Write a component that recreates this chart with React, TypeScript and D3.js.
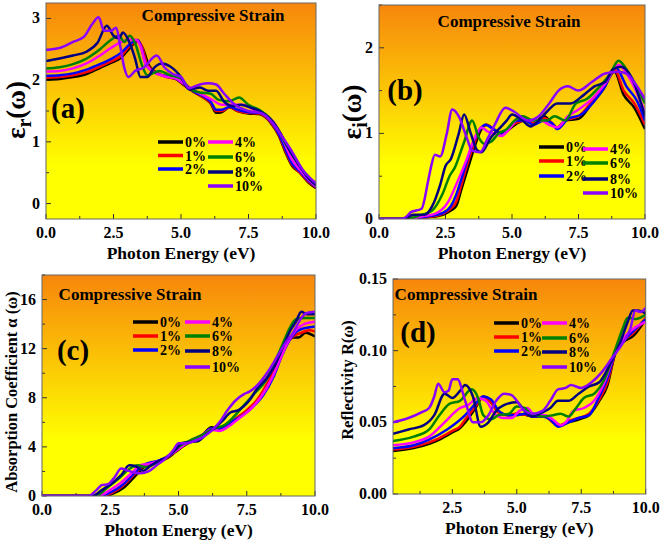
import React from "react";
import * as d3 from "d3";

type Pt = [number, number];

const seriesLabels = ["0%", "1%", "2%", "4%", "6%", "8%", "10%"];
const seriesColors = ["#000000", "#ff0000", "#0000ff", "#ff00ff", "#008000", "#000080", "#8b00ff"];

const xTickValues = [0, 2.5, 5, 7.5, 10];

// Panel (a): epsilon_r
const epsR0: Pt[] = [[0,2.01],[0.5,2.02],[1,2.05],[1.5,2.1],[2,2.2],[2.4,2.28],[2.8,2.37],[3.1,2.52],[3.4,2.63],[3.6,2.5],[3.8,2.25],[4.1,2.12],[4.5,2.05],[4.8,2.02],[5.1,1.92],[5.5,1.8],[5.9,1.7],[6.1,1.62],[6.3,1.47],[6.5,1.48],[6.8,1.56],[7.1,1.5],[7.5,1.46],[7.9,1.45],[8.3,1.32],[8.6,1.12],[8.9,0.8],[9.1,0.62],[9.4,0.5],[9.7,0.35],[10,0.25]];
const epsR1: Pt[] = [[0,2.04],[0.5,2.05],[1,2.08],[1.5,2.13],[2,2.22],[2.4,2.3],[2.8,2.4],[3.1,2.55],[3.4,2.64],[3.55,2.55],[3.75,2.25],[4.1,2.12],[4.5,2.05],[4.8,2.02],[5.1,1.93],[5.5,1.8],[5.9,1.7],[6.1,1.63],[6.3,1.5],[6.5,1.5],[6.8,1.56],[7.1,1.5],[7.5,1.47],[7.9,1.46],[8.3,1.33],[8.6,1.13],[8.9,0.82],[9.1,0.64],[9.4,0.5],[9.7,0.36],[10,0.26]];
const epsR2: Pt[] = [[0,2.07],[0.5,2.08],[1,2.11],[1.5,2.17],[2,2.26],[2.4,2.34],[2.8,2.45],[3.1,2.58],[3.4,2.65],[3.55,2.5],[3.7,2.25],[4.0,2.13],[4.4,2.07],[4.8,2.03],[5.1,1.94],[5.5,1.81],[5.9,1.72],[6.1,1.65],[6.3,1.52],[6.5,1.52],[6.8,1.57],[7.1,1.52],[7.5,1.48],[7.9,1.47],[8.3,1.35],[8.6,1.15],[8.9,0.85],[9.1,0.66],[9.4,0.52],[9.7,0.38],[10,0.27]];
const epsR4: Pt[] = [[0,2.14],[0.5,2.15],[1,2.19],[1.5,2.27],[2,2.4],[2.4,2.52],[2.8,2.62],[3.1,2.66],[3.35,2.65],[3.5,2.55],[3.7,2.25],[4.0,2.13],[4.4,2.06],[4.8,2.03],[5.1,1.95],[5.5,1.83],[5.9,1.74],[6.2,1.67],[6.5,1.6],[6.9,1.6],[7.3,1.6],[7.7,1.52],[8.1,1.45],[8.5,1.28],[8.8,1.02],[9.1,0.72],[9.4,0.55],[9.7,0.4],[10,0.28]];
const epsR6: Pt[] = [[0,2.19],[0.5,2.21],[1,2.26],[1.5,2.35],[2,2.5],[2.4,2.65],[2.7,2.72],[2.9,2.62],[3.1,2.72],[3.3,2.6],[3.55,2.25],[3.75,2.08],[4.0,2.12],[4.2,2.15],[4.6,2.08],[5.0,2.03],[5.3,1.87],[5.7,1.8],[6.1,1.78],[6.4,1.68],[6.8,1.66],[7.15,1.72],[7.5,1.6],[7.9,1.52],[8.3,1.38],[8.6,1.2],[8.9,0.95],[9.2,0.75],[9.5,0.55],[9.8,0.4],[10,0.3]];
const epsR8: Pt[] = [[0,2.31],[0.5,2.35],[1,2.4],[1.5,2.46],[1.9,2.6],[2.25,2.88],[2.5,2.72],[2.7,2.68],[2.85,2.77],[3.1,2.6],[3.3,2.35],[3.5,2.05],[3.75,2.05],[4.0,2.2],[4.3,2.27],[4.6,2.22],[5.0,2.05],[5.3,1.85],[5.7,1.88],[6.0,1.83],[6.3,1.83],[6.6,1.65],[6.9,1.58],[7.2,1.6],[7.6,1.55],[8.0,1.48],[8.4,1.32],[8.8,1.05],[9.1,0.8],[9.4,0.6],[9.7,0.42],[10,0.3]];
const epsR10: Pt[] = [[0,2.49],[0.5,2.52],[1,2.62],[1.4,2.7],[1.7,2.9],[1.95,3.02],[2.15,2.8],[2.4,2.8],[2.6,2.85],[2.75,2.55],[2.9,2.2],[3.05,2.05],[3.3,2.15],[3.6,2.2],[4.1,2.4],[4.4,2.2],[4.7,2.1],[5.0,2.05],[5.3,1.87],[5.7,1.93],[6.0,1.95],[6.3,1.93],[6.6,1.78],[7.0,1.6],[7.5,1.5],[8.0,1.46],[8.4,1.3],[8.8,1.05],[9.1,0.85],[9.5,0.55],[10,0.33]];

// Panel (b): epsilon_i
const epsI0: Pt[] = [[0,0],[1.3,0],[1.8,0.02],[2.4,0.05],[2.7,0.1],[2.9,0.15],[3.1,0.35],[3.35,0.6],[3.6,0.85],[3.85,1.05],[4.05,1.1],[4.3,1.05],[4.6,1.0],[4.9,1.05],[5.2,1.12],[5.5,1.15],[5.8,1.12],[6.2,1.2],[6.5,1.12],[6.7,1.07],[7.0,1.15],[7.5,1.17],[8.0,1.35],[8.4,1.5],[8.85,1.72],[9.2,1.45],[9.6,1.3],[10,1.05]];
const epsI1: Pt[] = [[0,0],[1.3,0],[1.8,0.02],[2.4,0.06],[2.7,0.12],[2.9,0.2],[3.1,0.4],[3.35,0.67],[3.6,0.9],[3.85,1.07],[4.05,1.1],[4.3,1.05],[4.6,1.0],[4.9,1.07],[5.2,1.13],[5.5,1.15],[5.8,1.12],[6.2,1.18],[6.5,1.12],[6.7,1.06],[7.0,1.15],[7.5,1.2],[8.0,1.37],[8.4,1.52],[8.85,1.75],[9.2,1.5],[9.6,1.35],[10,1.1]];
const epsI2: Pt[] = [[0,0],[1.2,0],[1.8,0.03],[2.4,0.07],[2.7,0.15],[2.9,0.28],[3.1,0.47],[3.35,0.72],[3.55,0.9],[3.8,1.05],[4.0,1.1],[4.3,1.05],[4.6,1.0],[4.9,1.07],[5.2,1.15],[5.5,1.15],[5.8,1.1],[6.2,1.15],[6.5,1.12],[6.7,1.05],[7.1,1.17],[7.6,1.22],[8.1,1.38],[8.5,1.55],[8.9,1.77],[9.3,1.55],[9.7,1.38],[10,1.15]];
const epsI4: Pt[] = [[0,0],[1.1,0],[1.6,0.03],[2.1,0.06],[2.6,0.2],[2.9,0.4],[3.3,0.7],[3.6,0.95],[3.85,1.07],[4.1,1.02],[4.3,1.0],[4.6,0.97],[4.9,1.05],[5.3,1.2],[5.7,1.15],[6.1,1.15],[6.4,1.1],[6.7,1.07],[7.1,1.2],[7.5,1.28],[8.0,1.4],[8.5,1.58],[9.0,1.8],[9.5,1.6],[10,1.25]];
const epsI6: Pt[] = [[0,0],[1.0,0],[1.5,0.04],[2.0,0.1],[2.4,0.3],[2.65,0.5],[2.85,0.6],[3.2,0.9],[3.5,1.15],[3.75,0.95],[3.95,0.88],[4.2,0.9],[4.5,1.0],[4.8,1.05],[5.1,1.15],[5.4,1.2],[5.8,1.15],[6.3,1.15],[6.6,1.2],[7.0,1.15],[7.4,1.35],[7.8,1.4],[8.3,1.55],[8.7,1.7],[9.0,1.85],[9.4,1.7],[10,1.35]];
const epsI8: Pt[] = [[0,0],[0.9,0],[1.3,0.05],[1.7,0.05],[2.0,0.15],[2.3,0.4],[2.5,0.62],[2.7,0.7],[3.0,1.0],[3.2,1.22],[3.45,1.0],[3.7,0.8],[3.85,0.78],[4.2,0.95],[4.5,1.05],[4.8,1.15],[5.0,1.22],[5.4,1.15],[5.7,1.08],[6.0,1.15],[6.3,1.25],[6.7,1.35],[7.2,1.35],[7.7,1.45],[8.1,1.55],[8.5,1.6],[8.8,1.75],[9.1,1.78],[9.5,1.65],[10,1.2]];
const epsI10: Pt[] = [[0,0],[0.8,0],[1.0,0.02],[1.2,0.08],[1.6,0.12],[1.85,0.45],[1.95,0.6],[2.1,0.75],[2.3,0.73],[2.55,1.0],[2.75,1.28],[3.0,1.2],[3.3,0.95],[3.5,0.8],[3.8,0.78],[4.1,0.95],[4.35,1.1],[4.75,1.3],[5.1,1.25],[5.6,1.15],[6.0,1.2],[6.4,1.35],[6.75,1.5],[7.1,1.55],[7.5,1.5],[8.0,1.6],[8.5,1.7],[9.0,1.72],[9.3,1.7],[9.7,1.55],[10,1.4]];

// Panel (c): absorption coefficient
const alpha0: Pt[] = [[0,0],[2.2,0],[2.6,0.2],[3.0,0.7],[3.4,1.6],[3.7,2.3],[4.0,2.6],[4.3,2.8],[4.6,3.1],[4.9,3.6],[5.2,4.1],[5.6,4.6],[5.9,5.0],[6.2,5.6],[6.5,5.4],[6.8,5.7],[7.1,6.3],[7.5,6.9],[7.9,7.8],[8.3,9.3],[8.6,10.8],[8.9,12.2],[9.2,12.9],[9.4,12.9],[9.65,13.3],[10,13.0]];
const alpha1: Pt[] = [[0,0],[2.15,0],[2.6,0.3],[3.0,0.9],[3.4,1.8],[3.7,2.4],[4.0,2.7],[4.3,2.85],[4.6,3.15],[4.9,3.65],[5.2,4.15],[5.6,4.6],[5.9,5.0],[6.2,5.5],[6.5,5.4],[6.8,5.8],[7.1,6.3],[7.5,7.0],[7.9,7.9],[8.3,9.4],[8.6,10.9],[8.9,12.3],[9.2,13.0],[9.5,13.3],[9.8,13.5],[10,13.4]];
const alpha2: Pt[] = [[0,0],[2.1,0],[2.6,0.4],[3.0,1.0],[3.4,1.9],[3.7,2.5],[4.0,2.75],[4.3,2.9],[4.6,3.2],[4.9,3.7],[5.2,4.2],[5.6,4.6],[5.9,5.0],[6.2,5.5],[6.5,5.5],[6.9,6.0],[7.3,6.5],[7.7,7.2],[8.1,8.2],[8.5,9.8],[8.8,11.5],[9.1,12.8],[9.4,13.5],[10,13.8]];
const alpha4: Pt[] = [[0,0],[2.05,0],[2.5,0.5],[2.9,1.1],[3.3,1.9],[3.6,2.5],[3.9,2.6],[4.2,2.8],[4.5,3.1],[4.8,3.5],[5.1,4.0],[5.5,4.6],[5.9,5.0],[6.2,5.4],[6.5,5.3],[6.8,5.6],[7.2,6.3],[7.6,7.0],[8.0,8.0],[8.4,9.5],[8.7,11],[9.0,12.5],[9.3,13.5],[9.6,14.0],[10,14.2]];
const alpha6: Pt[] = [[0,0],[1.95,0],[2.4,0.7],[2.8,1.4],[3.2,2.2],[3.5,2.5],[3.8,2.35],[4.1,2.6],[4.4,2.95],[4.7,3.4],[5.0,4.0],[5.4,4.5],[5.9,5.0],[6.3,5.5],[6.7,5.8],[7.0,6.4],[7.4,7.4],[7.8,8.4],[8.2,9.4],[8.5,10.8],[8.8,12.3],[9.1,13.8],[9.3,14.4],[9.6,14.5],[10,14.5]];
const alpha8: Pt[] = [[0,0],[1.85,0],[2.2,0.5],[2.6,1.1],[2.9,1.7],[3.2,2.5],[3.45,2.4],[3.7,2.05],[4.0,2.5],[4.3,2.9],[4.6,3.2],[4.9,3.8],[5.1,4.3],[5.4,4.4],[5.7,4.45],[6.0,5.0],[6.3,5.5],[6.6,6.1],[6.9,6.8],[7.2,7.0],[7.6,7.8],[7.9,8.8],[8.2,9.5],[8.5,10.5],[8.8,12.0],[9.1,13.5],[9.3,14.2],[9.5,15.0],[9.7,14.8],[10,14.8]];
const alpha10: Pt[] = [[0,0],[1.7,0],[2.0,0.5],[2.2,0.9],[2.4,0.95],[2.65,1.5],[2.9,2.25],[3.1,2.1],[3.4,1.9],[3.6,1.85],[3.9,2.0],[4.2,2.5],[4.5,3.0],[4.8,3.7],[5.0,4.3],[5.3,4.3],[5.6,4.5],[5.9,4.8],[6.2,5.3],[6.5,6.0],[6.8,7.0],[7.1,7.8],[7.4,8.3],[7.6,8.5],[8.0,9.3],[8.3,10.2],[8.6,11.3],[8.9,12.4],[9.2,13.3],[9.5,14.5],[9.7,14.9],[10,15.0]];

// Panel (d): reflectivity
const refl0: Pt[] = [[0.2,0.030],[1.0,0.032],[1.6,0.035],[2.0,0.038],[2.5,0.043],[2.8,0.046],[3.0,0.05],[3.4,0.06],[3.7,0.068],[4.0,0.064],[4.3,0.057],[4.7,0.055],[5.0,0.056],[5.4,0.055],[5.8,0.054],[6.1,0.054],[6.4,0.05],[6.7,0.048],[7.0,0.05],[7.4,0.052],[7.8,0.055],[8.2,0.065],[8.5,0.075],[8.85,0.1],[9.2,0.107],[9.5,0.11],[10,0.122]];
const refl1: Pt[] = [[0.2,0.031],[1.0,0.033],[1.6,0.036],[2.0,0.039],[2.5,0.044],[2.8,0.047],[3.0,0.052],[3.4,0.061],[3.7,0.068],[4.0,0.064],[4.3,0.057],[4.7,0.055],[5.0,0.056],[5.4,0.055],[5.8,0.054],[6.1,0.054],[6.4,0.05],[6.7,0.048],[7.0,0.051],[7.4,0.053],[7.8,0.056],[8.2,0.066],[8.5,0.077],[8.85,0.1],[9.2,0.108],[9.5,0.112],[10,0.123]];
const refl2: Pt[] = [[0.2,0.032],[1.0,0.034],[1.6,0.038],[2.3,0.045],[3.0,0.055],[3.4,0.063],[3.7,0.068],[4.0,0.066],[4.3,0.058],[4.7,0.055],[5.0,0.055],[5.3,0.056],[5.6,0.054],[6.0,0.054],[6.3,0.052],[6.6,0.047],[7.0,0.05],[7.4,0.053],[7.8,0.055],[8.2,0.068],[8.5,0.08],[8.85,0.1],[9.2,0.108],[9.6,0.115],[10,0.122]];
const refl4: Pt[] = [[0.2,0.034],[1.0,0.036],[1.6,0.04],[2.2,0.05],[2.8,0.06],[3.1,0.062],[3.5,0.067],[3.8,0.065],[4.1,0.057],[4.5,0.053],[4.8,0.053],[5.1,0.058],[5.4,0.06],[5.7,0.055],[6.1,0.055],[6.4,0.052],[6.7,0.048],[6.9,0.05],[7.2,0.058],[7.6,0.06],[8.0,0.065],[8.4,0.078],[8.8,0.098],[9.2,0.11],[9.5,0.115],[10,0.12]];
const refl6: Pt[] = [[0.2,0.037],[1.0,0.04],[1.6,0.045],[2.0,0.055],[2.4,0.063],[2.8,0.065],[3.25,0.073],[3.5,0.067],[3.7,0.055],[4.0,0.052],[4.3,0.055],[4.7,0.056],[5.0,0.061],[5.3,0.06],[5.6,0.055],[6.0,0.054],[6.4,0.055],[6.7,0.056],[7.0,0.054],[7.3,0.06],[7.6,0.067],[8.0,0.07],[8.4,0.08],[8.8,0.1],[9.1,0.115],[9.3,0.123],[9.6,0.122],[10,0.125]];
const refl8: Pt[] = [[0.2,0.042],[0.8,0.045],[1.4,0.048],[1.8,0.055],[2.2,0.07],[2.5,0.067],[2.8,0.072],[3.0,0.076],[3.3,0.068],[3.6,0.047],[3.9,0.05],[4.2,0.058],[4.5,0.062],[5.0,0.064],[5.3,0.058],[5.6,0.054],[6.0,0.057],[6.3,0.06],[6.6,0.065],[7.0,0.065],[7.4,0.07],[7.8,0.075],[8.2,0.078],[8.6,0.09],[9.0,0.105],[9.3,0.12],[9.5,0.128],[9.7,0.128],[10,0.126]];
const refl10: Pt[] = [[0.2,0.05],[0.8,0.053],[1.3,0.057],[1.6,0.06],[1.8,0.068],[1.95,0.077],[2.2,0.071],[2.35,0.072],[2.5,0.08],[2.7,0.08],[3.0,0.065],[3.3,0.05],[3.6,0.05],[3.9,0.055],[4.2,0.065],[4.5,0.07],[4.8,0.069],[5.0,0.065],[5.2,0.06],[5.6,0.056],[6.0,0.058],[6.3,0.065],[6.6,0.073],[6.9,0.074],[7.1,0.076],[7.5,0.074],[7.9,0.078],[8.3,0.085],[8.7,0.095],[9.1,0.105],[9.4,0.115],[9.6,0.128],[9.8,0.127],[10,0.13]];

const yTicksA = [0, 1, 2, 3];
const yTicksB = [0, 1, 2];
const yTicksC = [0, 4, 8, 12, 16];
const yTicksD = [0, 0.05, 0.1, 0.15];

const FONT = "'Liberation Serif', 'Times New Roman', serif";

type PanelProps = {
  id: string;
  series: Pt[][];
  x0: number; x1: number; y0: number; y1: number;
  xDomain: [number, number];
  yDomain: [number, number];
  yTicks: number[];
  yMinorStep: number;
  yFmt: (v: number) => string;
  xTicks: number[];
  titlePos: [number, number];
  letter: string;
  letterPos: [number, number];
  legend: { c1x: number; c1y: number[]; c2x: number; c2y: number[] };
  yTitle: React.ReactNode;
};

function Panel(p: PanelProps) {
  const x = d3.scaleLinear().domain(p.xDomain).range([p.x0, p.x1]);
  const y = d3.scaleLinear().domain(p.yDomain).range([p.y1, p.y0]);
  const line = d3.line<Pt>().x((d) => x(d[0])).y((d) => y(d[1])).curve(d3.curveMonotoneX);
  const xMinor = d3.range(0, 10.001, 1.25).filter((v) => v >= p.xDomain[0] && !p.xTicks.includes(v));
  const yMinor = d3.range(p.yDomain[0] < 0 ? 0 : p.yDomain[0], p.yDomain[1] + 1e-9, p.yMinorStep)
    .filter((v) => !p.yTicks.some((t) => Math.abs(t - v) < 1e-9));
  const legendLines = [
    { i: 0, x: p.legend.c1x, y: p.legend.c1y[0] },
    { i: 1, x: p.legend.c1x, y: p.legend.c1y[1] },
    { i: 2, x: p.legend.c1x, y: p.legend.c1y[2] },
    { i: 3, x: p.legend.c2x, y: p.legend.c2y[0] },
    { i: 4, x: p.legend.c2x, y: p.legend.c2y[1] },
    { i: 5, x: p.legend.c2x, y: p.legend.c2y[2] },
    { i: 6, x: p.legend.c2x, y: p.legend.c2y[3] },
  ];
  const gid = "grad-" + p.id;
  const cid = "clip-" + p.id;
  return (
    <g>
      <defs>
        <linearGradient id={gid} x1="0" y1="0" x2="0" y2="1">
          <stop offset="0%" stopColor="#f7860c" />
          <stop offset="75%" stopColor="#ffff00" />
          <stop offset="100%" stopColor="#ffff00" />
        </linearGradient>
        <clipPath id={cid}>
          <rect x={p.x0} y={p.y0} width={p.x1 - p.x0} height={p.y1 - p.y0} />
        </clipPath>
      </defs>
      <rect x={p.x0} y={p.y0} width={p.x1 - p.x0} height={p.y1 - p.y0} fill={`url(#${gid})`} />
      {p.xTicks.map((t) => (
        <line key={"xt" + t} x1={x(t)} x2={x(t)} y1={p.y1} y2={p.y1 - 5} stroke="#333" strokeWidth={1} />
      ))}
      {xMinor.map((t) => (
        <line key={"xm" + t} x1={x(t)} x2={x(t)} y1={p.y1} y2={p.y1 - 3} stroke="#333" strokeWidth={1} />
      ))}
      {p.yTicks.map((t) => (
        <line key={"yt" + t} x1={p.x0} x2={p.x0 + 5} y1={y(t)} y2={y(t)} stroke="#333" strokeWidth={1} />
      ))}
      {yMinor.map((t) => (
        <line key={"ym" + t} x1={p.x0} x2={p.x0 + 3} y1={y(t)} y2={y(t)} stroke="#333" strokeWidth={1} />
      ))}
      <g clipPath={`url(#${cid})`}>
        {p.series.map((s, i) => (
          <path key={i} d={line(s) || ""} fill="none" stroke={seriesColors[i]} strokeWidth={2.5} strokeLinejoin="round" />
        ))}
      </g>
      <rect x={p.x0} y={p.y0} width={p.x1 - p.x0} height={p.y1 - p.y0} fill="none" stroke="#666" strokeWidth={1} />
      {p.xTicks.map((t) => (
        <text key={"xl" + t} x={x(t)} y={p.y1 + 19} textAnchor="middle" fontSize={16} fontWeight="bold" fontFamily={FONT}>
          {t.toFixed(1)}
        </text>
      ))}
      {p.yTicks.map((t) => (
        <text key={"yl" + t} x={p.x0 - 6} y={y(t) + 5} textAnchor="end" fontSize={16} fontWeight="bold" fontFamily={FONT}>
          {p.yFmt(t)}
        </text>
      ))}
      <text x={(p.x0 + p.x1) / 2} y={p.y1 + 40} textAnchor="middle" fontSize={17.5} fontWeight="bold" fontFamily={FONT}>
        Photon Energy (eV)
      </text>
      <text x={p.titlePos[0]} y={p.titlePos[1]} textAnchor="middle" fontSize={17} fontWeight="bold" fontFamily={FONT}>
        Compressive Strain
      </text>
      <text x={p.letterPos[0]} y={p.letterPos[1]} textAnchor="middle" fontSize={29} fontWeight="bold" fontFamily={FONT}>
        {p.letter}
      </text>
      {legendLines.map((l) => (
        <g key={"lg" + l.i}>
          <line x1={l.x} x2={l.x + 25} y1={l.y} y2={l.y} stroke={seriesColors[l.i]} strokeWidth={3.5} />
          <text x={l.x + 27} y={l.y + 5} fontSize={14} fontWeight="bold" fontFamily={FONT}>
            {seriesLabels[l.i]}
          </text>
        </g>
      ))}
      {p.yTitle}
    </g>
  );
}

export default function App() {
  const intFmt = (v: number) => d3.format("d")(v);
  const decFmt = (v: number) => d3.format(".2f")(v);
  return (
    <svg width={661} height={540} style={{ position: "absolute", left: 0, top: 0, background: "#fff" }}>
      <Panel
        id="a"
        series={[epsR0, epsR1, epsR2, epsR4, epsR6, epsR8, epsR10]}
        x0={46} x1={316} y0={3} y1={219}
        xDomain={[0, 10]} yDomain={[-0.25, 3.25]}
        yTicks={yTicksA} yMinorStep={0.5} yFmt={intFmt} xTicks={xTickValues}
        titlePos={[213, 21]} letter="(a)" letterPos={[68, 118]}
        legend={{ c1x: 158, c1y: [142, 155.5, 169], c2x: 208, c2y: [142, 157, 172, 186] }}
        yTitle={
          <text transform="translate(25,110) rotate(-90)" textAnchor="middle" fontSize={27} fontWeight="bold" fontFamily={FONT}>
            ε<tspan fontSize={20} dy={6}>r</tspan><tspan dy={-6}>(ω)</tspan>
          </text>
        }
      />
      <Panel
        id="b"
        series={[epsI0, epsI1, epsI2, epsI4, epsI6, epsI8, epsI10]}
        x0={379} x1={645} y0={5} y1={219}
        xDomain={[0, 10]} yDomain={[0, 2.5]}
        yTicks={yTicksB} yMinorStep={0.5} yFmt={intFmt} xTicks={xTickValues}
        titlePos={[509, 27]} letter="(b)" letterPos={[405, 100]}
        legend={{ c1x: 539, c1y: [147, 161, 176], c2x: 583, c2y: [149, 163, 179, 193] }}
        yTitle={
          <text transform="translate(361,112) rotate(-90)" textAnchor="middle" fontSize={27} fontWeight="bold" fontFamily={FONT}>
            ε<tspan fontSize={20} dy={6}>i</tspan><tspan dy={-6}>(ω)</tspan>
          </text>
        }
      />
      <Panel
        id="c"
        series={[alpha0, alpha1, alpha2, alpha4, alpha6, alpha8, alpha10]}
        x0={42} x1={315} y0={275} y1={496}
        xDomain={[0, 10]} yDomain={[0, 18]}
        yTicks={yTicksC} yMinorStep={2} yFmt={intFmt} xTicks={xTickValues}
        titlePos={[130, 300]} letter="(c)" letterPos={[73, 360]}
        legend={{ c1x: 133, c1y: [322, 336, 350], c2x: 185, c2y: [322, 336, 351, 367] }}
        yTitle={
          <text transform="translate(17,392) rotate(-90)" textAnchor="middle" fontSize={16.5} fontWeight="bold" fontFamily={FONT}>
            Absorption Coefficient α (ω)
          </text>
        }
      />
      <Panel
        id="d"
        series={[refl0, refl1, refl2, refl4, refl6, refl8, refl10]}
        x0={393} x1={645.7} y0={279} y1={494}
        xDomain={[0.2, 10]} yDomain={[0, 0.15]}
        yTicks={yTicksD} yMinorStep={0.025} yFmt={decFmt} xTicks={[2.5, 5, 7.5, 10]}
        titlePos={[466, 300]} letter="(d)" letterPos={[418, 342]}
        legend={{ c1x: 494, c1y: [323, 337, 351], c2x: 542, c2y: [323, 338, 352, 367] }}
        yTitle={
          <text transform="translate(353,380) rotate(-90)" textAnchor="middle" fontSize={16.5} fontWeight="bold" fontFamily={FONT}>
            Reflectivity R(ω)
          </text>
        }
      />
    </svg>
  );
}
